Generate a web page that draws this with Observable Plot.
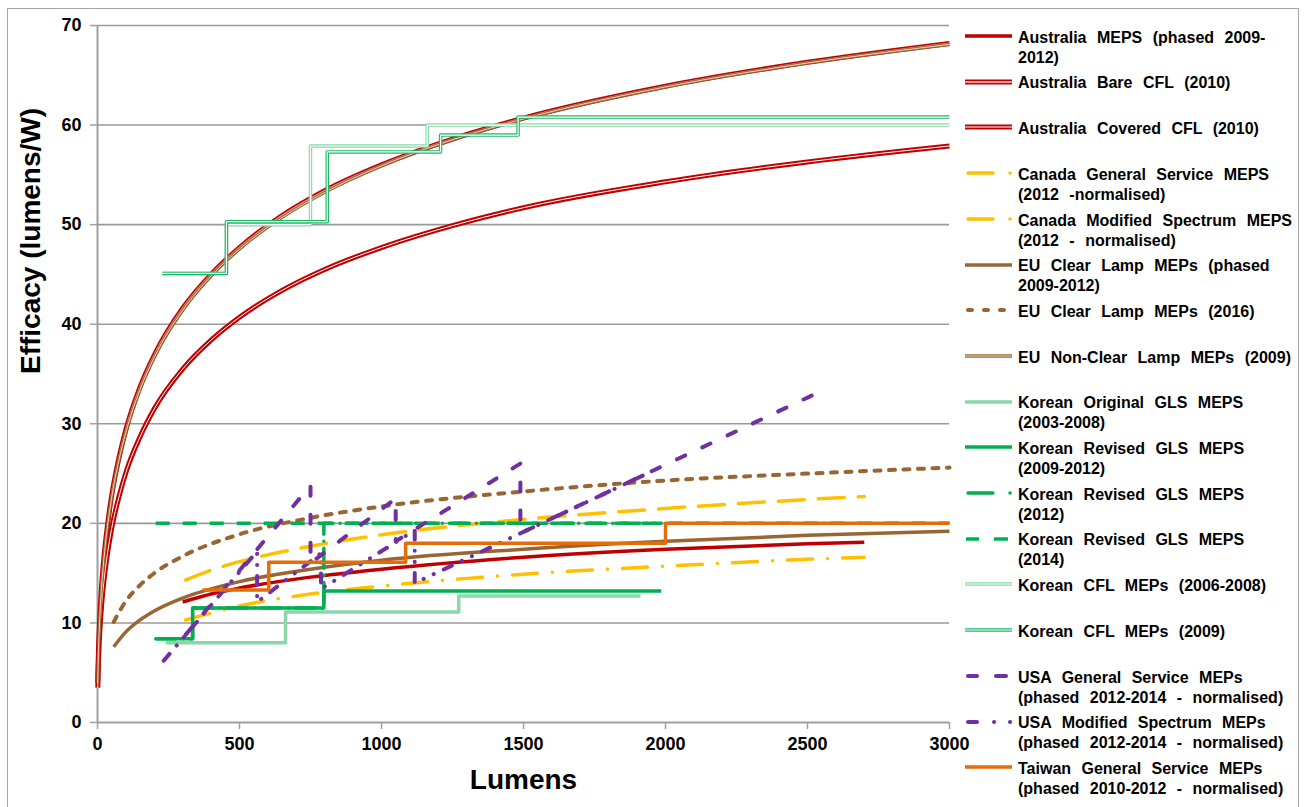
<!DOCTYPE html>
<html><head><meta charset="utf-8">
<script src="https://cdn.jsdelivr.net/npm/d3@7"></script>
<script src="https://cdn.jsdelivr.net/npm/@observablehq/plot@0.6"></script>
<style>
html,body{margin:0;padding:0;background:#fff;}
#wrap{position:relative;width:1306px;height:807px;overflow:hidden;font-family:"Liberation Sans",Arial,sans-serif;}
#frame{position:absolute;left:7px;top:8px;width:1292px;height:830px;border:1.5px solid #a6a6a6;box-sizing:border-box;}
#chart{position:absolute;left:0;top:0;}
.item{position:absolute;left:1018px;font-weight:bold;font-size:16px;line-height:20px;word-spacing:6px;color:#000;white-space:nowrap;}
.sw{position:absolute;left:962px;overflow:visible;}
</style></head><body>
<div id="wrap"><div id="frame"></div><div id="chart"></div><div id="legend"></div></div>
<script>
// ---------- data (lumens, efficacy lm/W) ----------
const lumenTicks = [0, 500, 1000, 1500, 2000, 2500, 3000];
const efficacyTicks = [0, 10, 20, 30, 40, 50, 60, 70];

const ausMeps = [[300,12.1],[400,12.9],[500,13.5],[750,14.6],[1000,15.4],[1500,16.6],[2000,17.4],[2500,17.95],[2700,18.1]];
const ausBareCfl = [[1,4.0],[2,5.6],[3,6.8],[5,8.6],[8,10.6],[12,12.7],[20,15.8],[30,18.6],[50,22.8],[75,26.5],[100,29.4],[150,33.7],[200,36.9],[300,41.6],[400,45.0],[500,47.7],[650,50.9],[800,53.4],[1000,56.0],[1250,58.6],[1500,60.7],[2000,63.9],[2500,66.3],[3000,68.2]];
const ausCoveredCfl = [[1,3.5],[2,4.8],[3,5.8],[5,7.35],[8,9.1],[12,10.85],[20,13.5],[30,15.9],[50,19.5],[75,22.6],[100,25.1],[150,28.7],[200,31.5],[300,35.5],[400,38.4],[500,40.7],[650,43.4],[800,45.5],[1000,47.7],[1250,49.9],[1500,51.7],[2000,54.3],[2500,56.3],[3000,57.9]];
const canadaGs = [[310,14.3],[400,15.3],[500,16.15],[750,17.7],[1000,18.85],[1500,20.4],[2000,21.5],[2500,22.4],[2700,22.7]];
const canadaMs = [[310,10.3],[400,11.0],[500,11.7],[750,12.9],[1000,13.7],[1500,14.9],[2000,15.7],[2500,16.4],[2700,16.6]];
const euClear = [[57,7.6],[100,9.1],[150,10.3],[200,11.2],[300,12.5],[500,14.15],[750,15.4],[1000,16.3],[1500,17.4],[2000,18.2],[2500,18.8],[3000,19.2]];
const euClear2016 = [[57,10.1],[100,12.2],[150,13.8],[200,15.0],[300,16.7],[500,18.9],[750,20.55],[1000,21.7],[1500,23.2],[2000,24.3],[2500,25.0],[3000,25.6]];
const euNonClear = [[1,4.0],[2,5.56],[3,6.72],[5,8.5],[8,10.5],[12,12.57],[20,15.63],[30,18.48],[50,22.6],[75,26.31],[100,29.15],[150,33.45],[200,36.67],[300,41.4],[400,44.84],[500,47.54],[650,50.72],[800,53.23],[1000,55.9],[1250,58.52],[1500,60.62],[2000,63.83],[2500,66.23],[3000,68.1]];
const koreaOriginal = [[240,8.0],[662,8.0],[662,11.1],[1272,11.1],[1272,12.7],[1912,12.7]];
const koreaRevised = [[205,8.4],[335,8.4],[335,11.5],[797,11.5],[797,13.2],[1985,13.2]];
const koreaRevised2012 = [[205,8.4],[335,8.4],[335,11.5],[797,11.5],[797,20],[1985,20]];
const koreaRevised2014 = [[205,20],[3000,20]];
const koreaCfl0608 = [[228,45.1],[454,45.1],[454,50.0],[750,50.0],[750,57.9],[1161,57.9],[1161,60.0],[3000,60.0]];
const koreaCfl09 = [[228,45.1],[454,45.1],[454,50.3],[809,50.3],[809,57.3],[1208,57.3],[1208,59.0],[1481,59.0],[1481,60.8],[3000,60.8]];
const usaGs = [[310,8.8],[750,23.8],[750,16.0],[1050,22.5],[1050,18.2],[1489,26.0],[1489,19.0],[2557,33.4]];
const usaMs = [[233,6.2],[562,17.2],[562,12.1],[787,17.0],[787,13.4],[1117,19.3],[1117,14.0],[1950,25.2]];
const taiwanGs = [[370,13.3],[603,13.3],[603,16.1],[1085,16.1],[1085,18.0],[2000,18.0],[2000,20.0],[3000,20.0]];

// ---------- styles ----------
const red = "#C00000", yellow = "#FFC000", brown = "#996633", lightGreen = "#88D8A8",
      green = "#00B050", purple = "#7030A0", orange = "#E46C0A";

const series = [
  {name:["Australia MEPS (phased 2009-","2012)"], data:ausMeps, stroke:red, w:3.5, curve:"monotone-x", sw:[[0,47]]},
  {name:["Australia Bare CFL (2010)"], data:ausBareCfl, stroke:red, w:5, inner:"#E49A9A", iw:2, curve:"monotone-x", sw:[[0,47]]},
  {name:["Australia Covered CFL (2010)"], data:ausCoveredCfl, stroke:red, w:5, inner:"#ffffff", iw:1, curve:"monotone-x", sw:[[0,47]]},
  {name:["Canada General Service MEPS","(2012 -normalised)"], data:canadaGs, stroke:yellow, w:3.5, dash:"26,14", cap:"round", curve:"monotone-x", sw:[[1,30],[45,45]]},
  {name:["Canada Modified Spectrum MEPS","(2012 - normalised)"], data:canadaMs, stroke:yellow, w:3.5, dash:"25,15,0.1,15", cap:"round", curve:"monotone-x", sw:[[1,30],[45,45]]},
  {name:["EU Clear Lamp MEPs (phased","2009-2012)"], data:euClear, stroke:brown, w:3.5, curve:"monotone-x", sw:[[0,47]]},
  {name:["EU Clear Lamp MEPs (2016)"], data:euClear2016, stroke:brown, w:4, dash:"6,8.5", cap:"round", curve:"monotone-x", sw:[[1,9],[17,25],[33,41]]},
  {name:["EU Non-Clear  Lamp MEPs (2009)"], data:euNonClear, stroke:brown, w:3, inner:"#E9D3BC", iw:1, curve:"monotone-x", sw:[[0,47]]},
  {name:["Korean Original GLS MEPS","(2003-2008)"], data:koreaOriginal, stroke:lightGreen, w:3.5, curve:"linear", sw:[[0,47]]},
  {name:["Korean Revised GLS MEPS","(2009-2012)"], data:koreaRevised, stroke:green, w:3.5, curve:"linear", sw:[[0,47]]},
  {name:["Korean Revised GLS MEPS","(2012)"], data:koreaRevised2012, stroke:green, w:3.5, dash:"20,7,0.1,7", cap:"round", curve:"linear", sw:[[1,30],[45,45]]},
  {name:["Korean Revised GLS MEPS","(2014)"], data:koreaRevised2014, stroke:green, w:3.5, dash:"14,13", curve:"linear", sw:[[1,14],[29,43]]},
  {name:["Korean CFL MEPs (2006-2008)"], data:koreaCfl0608, stroke:lightGreen, w:3.5, inner:"#ffffff", iw:1.2, curve:"linear", sw:[[0,47]]},
  {name:["Korean CFL MEPs (2009)"], data:koreaCfl09, stroke:"#1DB866", w:3.5, inner:"#ffffff", iw:1.2, curve:"linear", sw:[[0,47]]},
  {name:["USA General Service MEPs","(phased 2012-2014  - normalised)"], data:usaGs, stroke:purple, w:4, dash:"9,19", cap:"round", curve:"linear", sw:[[1,14],[29,43]]},
  {name:["USA Modified Spectrum  MEPs","(phased 2012-2014  - normalised)"], data:usaMs, stroke:purple, w:4, dash:"9,11,0.1,11,0.1,11", cap:"round", curve:"linear", sw:[[1,14],[29,29],[45,45]]},
  {name:["Taiwan General Service MEPs","(phased 2010-2012  - normalised)"], data:taiwanGs, stroke:orange, w:3.5, curve:"linear", sw:[[0,47]]}
];

// ---------- chart ----------
const lineMarks = [];
for (const s of series) {
  lineMarks.push(Plot.line(s.data, {x:d=>d[0], y:d=>d[1], stroke:s.stroke, strokeWidth:s.w,
    strokeDasharray:s.dash, strokeLinecap:s.cap || "butt", strokeLinejoin:"round", curve:s.curve}));
  if (s.inner) lineMarks.push(Plot.line(s.data, {x:d=>d[0], y:d=>d[1], stroke:s.inner, strokeWidth:s.iw,
    strokeLinejoin:"round", curve:s.curve}));
}

const chart = Plot.plot({
  width:1306, height:807,
  marginLeft:97, marginRight:357, marginTop:25, marginBottom:85,
  x:{domain:[0,3000]}, y:{domain:[0,70]},
  style:{fontFamily:'"Liberation Sans", Arial, sans-serif', fontSize:"18px", fontWeight:"bold", background:"transparent", overflow:"visible", color:"#000"},
  marks:[
    Plot.ruleY(efficacyTicks.slice(1), {stroke:"#9a9a9a", strokeWidth:1.6}),
    Plot.ruleY([0], {stroke:"#a0a0a0", strokeWidth:2}),
    Plot.ruleX([0], {stroke:"#a0a0a0", strokeWidth:2}),
    Plot.axisY({ticks:efficacyTicks, tickFormat:d=>String(d), tickSize:7, tickPadding:9, label:null, stroke:"#a0a0a0", fill:"#000", strokeWidth:1.5, fontSize:18}),
    Plot.axisX({ticks:lumenTicks, tickFormat:d=>String(d), tickSize:7, tickPadding:8, label:null, stroke:"#a0a0a0", fill:"#000", strokeWidth:1.5, fontSize:18}),
    ...lineMarks,
    Plot.text(["Efficacy (lumens/W)"], {frameAnchor:"left", rotate:-90, dx:-66, fontSize:28, fontWeight:"bold", fill:"#000"}),
    Plot.text(["Lumens"], {frameAnchor:"bottom", dy:66, fontSize:28, fontWeight:"bold", fill:"#000"})
  ]
});
document.getElementById("chart").appendChild(chart);

// ---------- legend ----------
const legend = document.getElementById("legend");
const NS = "http://www.w3.org/2000/svg";
series.forEach((s, i) => {
  const cy = 37.5 + 45.7 * i;
  const div = document.createElement("div");
  div.className = "item";
  div.style.top = (cy - 9.8) + "px";
  div.innerHTML = s.name.join("<br>");
  legend.appendChild(div);
  const svg = document.createElementNS(NS, "svg");
  svg.setAttribute("class", "sw");
  svg.setAttribute("width", 56); svg.setAttribute("height", 12);
  svg.style.top = (cy - 1.5 - 6) + "px";
  const draw = (color, width, cap) => {
    for (const [a, b] of s.sw) {
      const l = document.createElementNS(NS, "line");
      const round = cap === "round" || a === b;
      l.setAttribute("x1", 3 + a + (round && a !== b ? 2 : 0));
      l.setAttribute("x2", 3 + b - (round && a !== b ? 2 : 0) + (a === b ? 0.1 : 0));
      l.setAttribute("y1", 6); l.setAttribute("y2", 6);
      l.setAttribute("stroke", color); l.setAttribute("stroke-width", width);
      l.setAttribute("stroke-linecap", round ? "round" : "butt");
      svg.appendChild(l);
    }
  };
  draw(s.stroke, Math.max(s.w, 3.5), s.cap);
  if (s.inner) draw(s.inner, s.iw, "butt");
  legend.appendChild(svg);
});
</script>
</body></html>
